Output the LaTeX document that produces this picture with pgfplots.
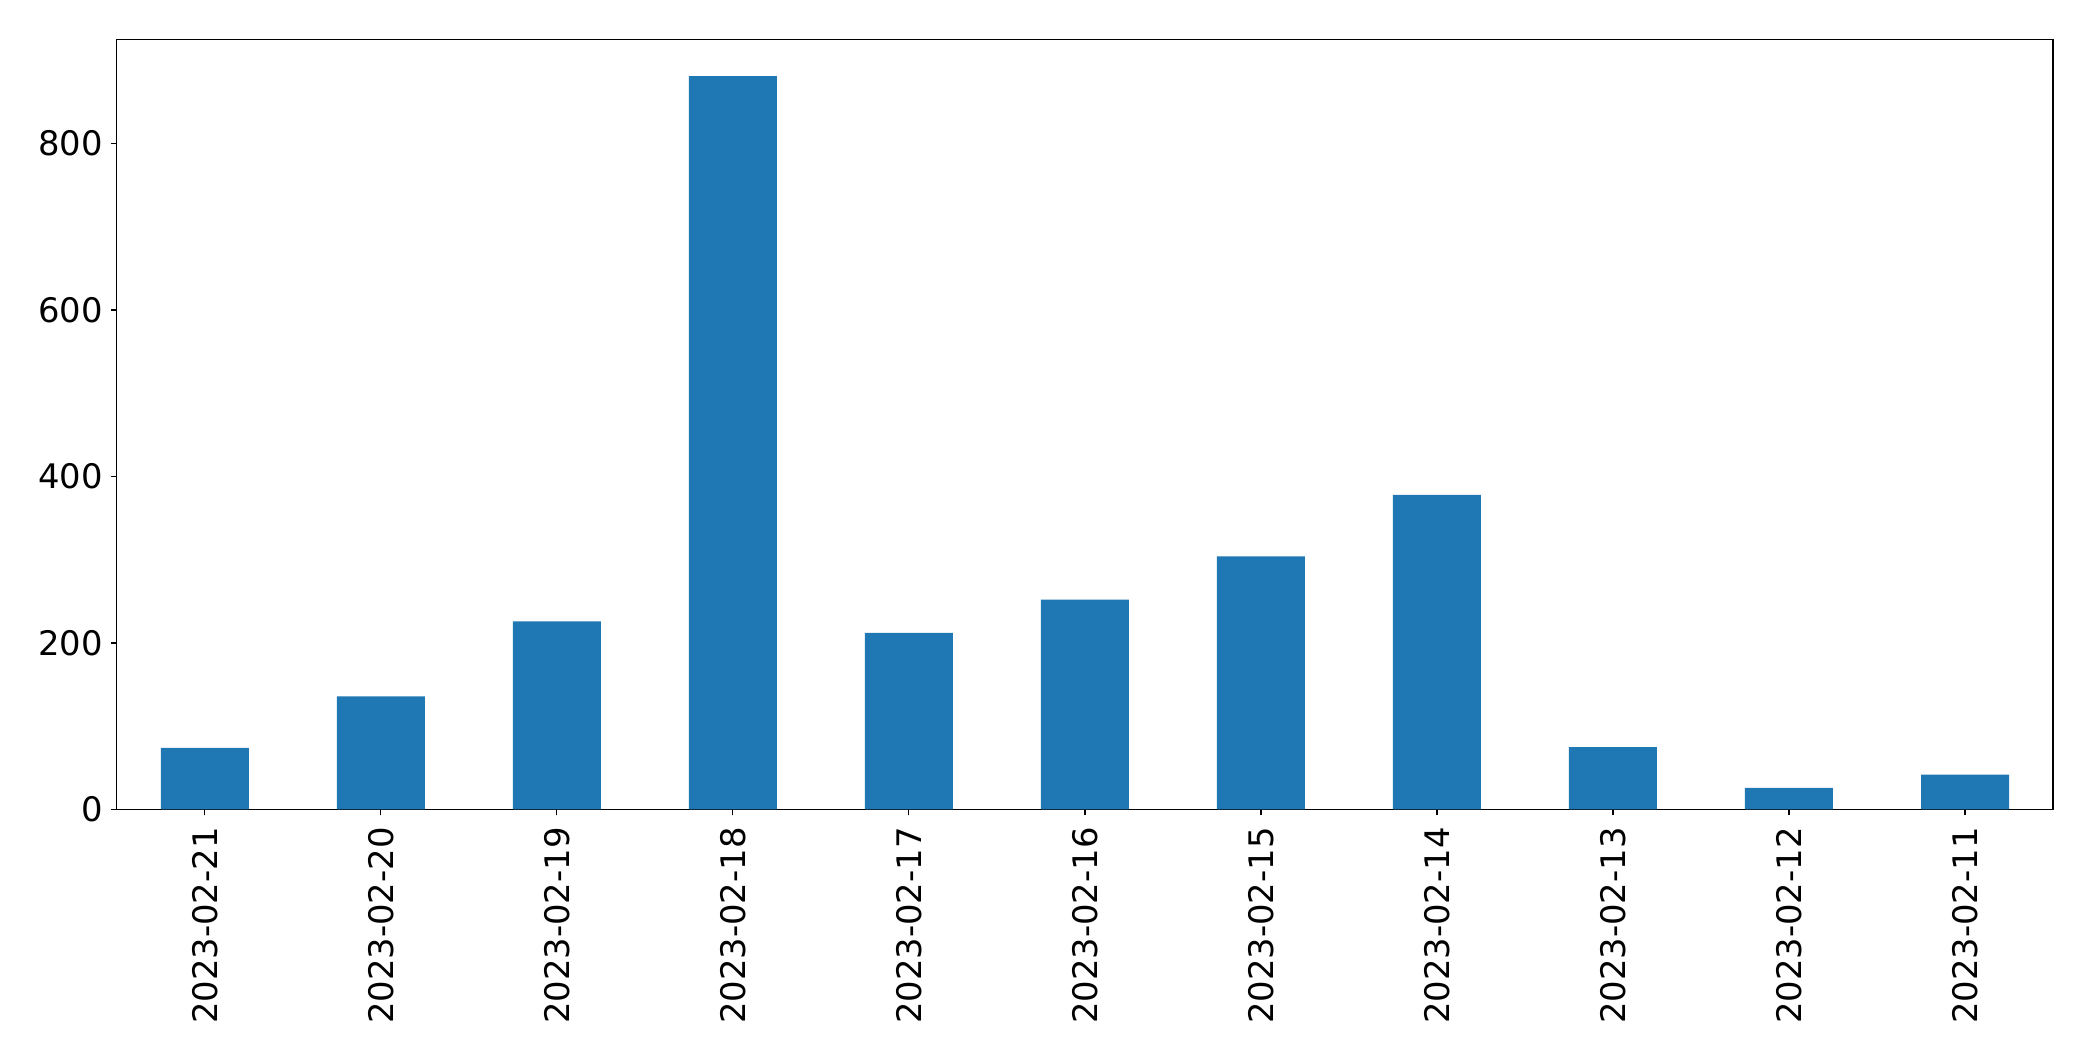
\documentclass[border=0pt]{standalone}
\usepackage{pgfplots}
\pgfplotsset{compat=1.18}
\usepackage{fontspec}
\setmainfont{DejaVu Sans}
\definecolor{mplblue}{HTML}{1F77B4}
\begin{document}
\begin{tikzpicture}
\path[use as bounding box] (-58.4pt,-125.9pt) rectangle (988pt,404.7pt);
\begin{axis}[
  at={(0,0)}, anchor=south west,
  scale only axis,
  width=968pt, height=385pt,
  xmin=-0.5, xmax=10.5,
  ymin=0, ymax=925,
  xtick={0,1,2,3,4,5,6,7,8,9,10},
  xticklabels={2023-02-21,2023-02-20,2023-02-19,2023-02-18,2023-02-17,2023-02-16,2023-02-15,2023-02-14,2023-02-13,2023-02-12,2023-02-11},
  ytick={0,200,400,600,800},
  tick align=outside,
  major tick length=3pt,
  xtick pos=bottom, ytick pos=left,
  axis line style={line width=0.6pt},
  every tick/.style={line width=0.6pt, black},
  /pgf/number format/assume math mode=true,
  ticklabel style={font=\fontsize{16.9}{20}\selectfont, inner sep=0pt},
  xticklabel style={rotate=90, anchor=east},
  yticklabel style={anchor=east},
  xticklabel shift=5.7pt,
  yticklabel shift=3.8pt,
  scaled y ticks=false,
]
\addplot[ybar, bar width=0.5, fill=mplblue, draw=none] coordinates {
  (0,74) (1,136) (2,226) (3,881) (4,212) (5,252) (6,304) (7,378) (8,75) (9,26) (10,42)
};
\end{axis}
\end{tikzpicture}
\end{document}
